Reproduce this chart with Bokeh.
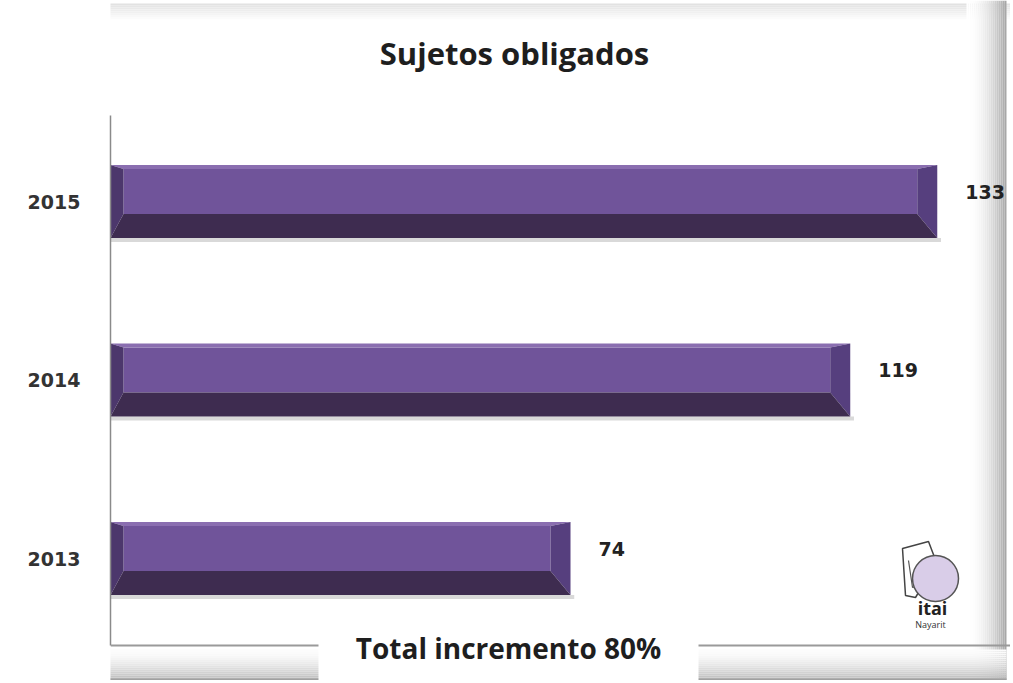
from bokeh.plotting import figure
from bokeh.models import (ColumnDataSource, Range1d, LabelSet, Label, BoxAnnotation,
                          FixedTicker, Span)
from bokeh.embed import file_html
from bokeh.resources import INLINE
from bokeh.core.properties import value

# ---------------- data ----------------
years = ["2013", "2014", "2015"]
counts = [74, 119, 133]
title_text = "Sujetos obligados"
footer_text = "Total incremento 80%"
logo_text = "itai"
logo_sub = "Nayarit"

# ---------------- layout (canvas px) ----------------
W, H = 1010, 680
FL = 110                 # frame left (y axis line)
PX_PER_X = 6.2163        # px per count
PX_PER_Y = 178.5         # px per category step
TOP_CAT_PX = 201         # centre of the top category
BASE_PX = 645            # baseline (x axis line)
AXIS_TOP_PX = 115        # top of the y axis line

X_END = (W - FL) / PX_PER_X
Y1 = (len(years) - 1) + TOP_CAT_PX / PX_PER_Y
Y0 = Y1 - H / PX_PER_Y

def dx(px):
    return (px - FL) / PX_PER_X

def dy(py):
    return Y1 - py / PX_PER_Y

p = figure(width=W, height=H, output_backend="svg", toolbar_location=None,
           x_range=Range1d(0, X_END), y_range=Range1d(Y0, Y1),
           x_axis_location=None,
           min_border_left=FL, min_border_right=0,
           min_border_top=0, min_border_bottom=0)
p.background_fill_color = "white"
p.border_fill_color = "white"
p.outline_line_color = None
p.grid.visible = False

# ---------------- outer box shading ----------------
def cbox(l, r, t, b, color, level="underlay"):
    p.add_layout(BoxAnnotation(left=l, right=r, top=t, bottom=b,
                               left_units="canvas", right_units="canvas",
                               top_units="canvas", bottom_units="canvas",
                               fill_color=color, fill_alpha=1.0, line_color=None,
                               level=level))

def grey(g):
    g = int(max(0, min(255, round(g))))
    return "#%02x%02x%02x" % (g, g, g)

# top edge
for k in range(9):
    t = k / 8
    cbox(0, W, 3 + 2 * k, 5 + 2 * k, grey(226 + 29 * t))
# right edge
for k in range(20):
    t = k / 19
    cbox(966 + 2 * k, 968 + 2 * k, 0, 680, grey(255 - 88 * t ** 2))
# bottom edge
for k in range(15):
    t = k / 14
    cbox(0, 1006, 649 + 2 * k, 651 + 2 * k, grey(252 - 62 * t ** 1.6))
cbox(0, 1006, 678, 680, grey(160))

# ---------------- bars (bevelled) ----------------
h = 0.41
L_in, R_in = 13 / PX_PER_X, 20 / PX_PER_X
T_in, B_in = 4 / PX_PER_Y, 24 / PX_PER_Y

face, top, left, right, bottom, shadow = ([] for _ in range(6))
for i, v in enumerate(counts):
    yt, yb = i + h / 2, i - h / 2
    xi0, xi1 = L_in, v - R_in
    yit, yib = yt - T_in, yb + B_in
    face.append(([xi0, xi1, xi1, xi0], [yib, yib, yit, yit]))
    top.append(([0, v, xi1, xi0], [yt, yt, yit, yit]))
    left.append(([0, xi0, xi0, 0], [yt, yit, yib, yb]))
    right.append(([v, v, xi1, xi1], [yt, yb, yib, yit]))
    bottom.append(([0, v, xi1, xi0], [yb, yb, yib, yib]))
    shadow.append(([0, v + 0.6, v + 0.6, 0],
                   [yb, yb, yb - 4 / PX_PER_Y, yb - 4 / PX_PER_Y]))

def draw(parts, color, alpha=1.0):
    p.patches(xs=[a for a, _ in parts], ys=[b for _, b in parts],
              fill_color=color, fill_alpha=alpha, line_color=None)

draw(shadow, "#c9c9c9", 0.7)
draw(face, "#70549a")
draw(top, "#8a6eb0")
draw(left, "#4c376c")
draw(right, "#563f7e")
draw(bottom, "#3e2c50")

# ---------------- axes ----------------
yax = p.yaxis[0]
yax.ticker = FixedTicker(ticks=list(range(len(years))))
yax.major_label_overrides = {i: y for i, y in enumerate(years)}
yax.bounds = (dy(BASE_PX), dy(AXIS_TOP_PX))
yax.axis_line_color = "#8a8a8a"
yax.axis_line_width = 1.5
yax.major_tick_line_color = None
yax.minor_tick_line_color = None
yax.major_label_standoff = 24
yax.major_label_text_font = "DejaVu Sans"
yax.major_label_text_font_style = "bold"
yax.major_label_text_font_size = "19px"
yax.major_label_text_color = "#333333"

p.add_layout(Span(location=dy(BASE_PX), dimension="width",
                  line_color="#9a9a9a", line_width=2))

# ---------------- value labels ----------------
src = ColumnDataSource(dict(x=counts, y=list(range(len(counts))),
                            t=[str(c) for c in counts]))
p.add_layout(LabelSet(x="x", y="y", text="t", source=src, x_offset=28, y_offset=10,
                      text_align="left", text_baseline="middle",
                      text_font=value("DejaVu Sans"), text_font_style="bold",
                      text_font_size="19px", text_color="#222222"))

# ---------------- footer box ----------------
p.add_layout(BoxAnnotation(left=318, right=698, top=615, bottom=H,
                           left_units="canvas", right_units="canvas",
                           top_units="canvas", bottom_units="canvas",
                           fill_color="white", fill_alpha=1.0, line_color=None))
p.add_layout(Label(x=508 - FL, y=H - 647, x_units="screen", y_units="screen",
                   text=footer_text, text_align="center", text_baseline="middle",
                   text_font="Open Sans", text_font_style="bold",
                   text_font_size="28px", text_color="#1e1e1e"))

# ---------------- title ----------------
p.add_layout(Label(x=514 - FL, y=H - 52, x_units="screen", y_units="screen",
                   text=title_text, text_align="center", text_baseline="middle",
                   text_font="Open Sans", text_font_style="bold",
                   text_font_size="31px", text_color="#1e1e1e"))

# ---------------- logo ----------------
page_x = [902, 928, 936, 915, 905]
page_y = [548, 541, 562, 597, 595]
p.patch([dx(x) for x in page_x], [dy(y) for y in page_y],
        fill_color="white", line_color="#444444", line_width=1.5)
p.line([dx(x) for x in [908, 912, 924]], [dy(y) for y in [560, 587, 584]],
       line_color="#555555", line_width=1.2)
p.scatter([dx(935)], [dy(578)], size=46, fill_color="#d9cde8",
          line_color="#555555", line_width=1.5)
p.text([dx(932)], [dy(607)], text=[logo_text], text_align="center",
       text_baseline="middle", text_font=value("Open Sans"), text_font_style="bold",
       text_font_size="18px", text_color="#222222")
p.text([dx(930)], [dy(624)], text=[logo_sub], text_align="center",
       text_baseline="middle", text_font=value("Open Sans"),
       text_font_size="9px", text_color="#333333")

open("out.html", "w").write(file_html(p, INLINE))
